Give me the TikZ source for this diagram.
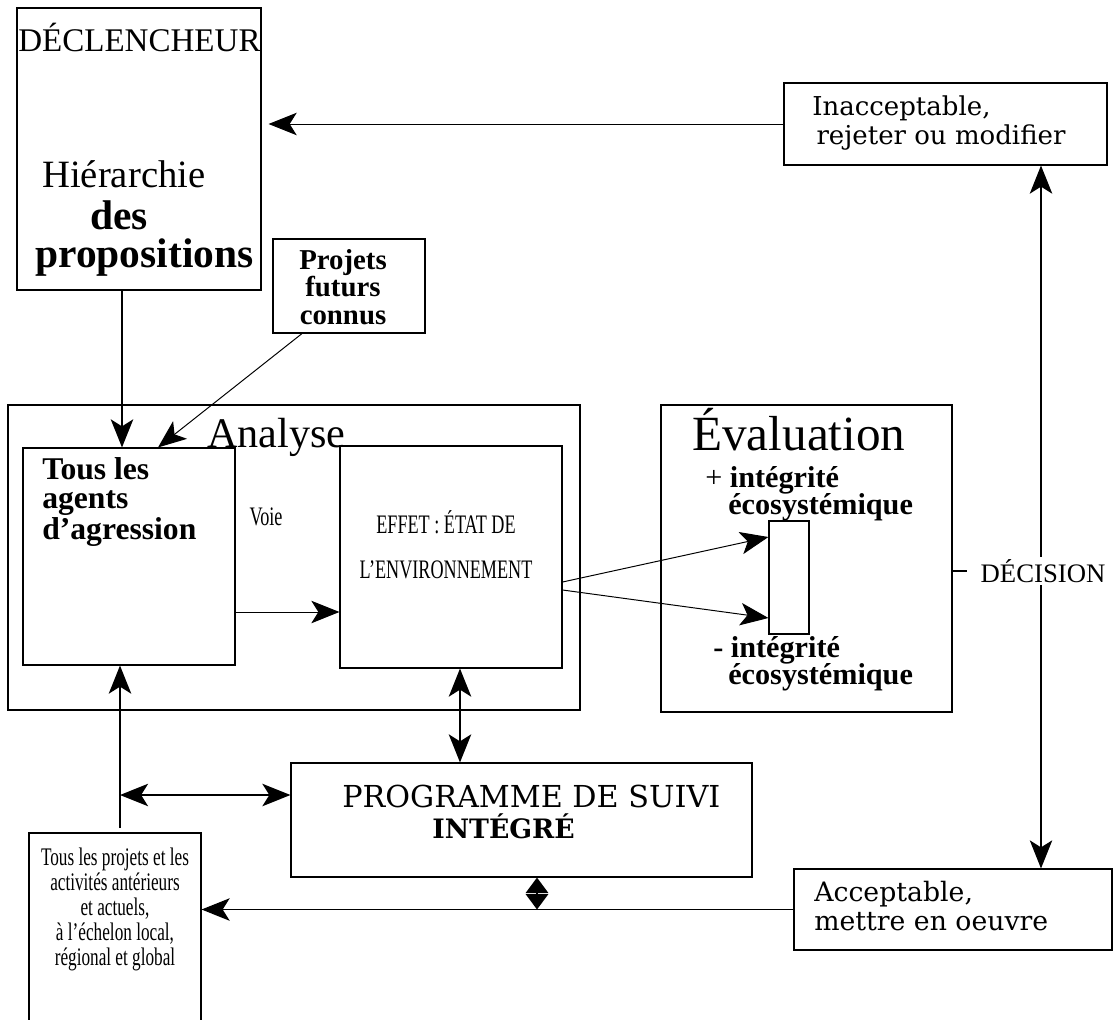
\documentclass[tikz,border=0pt]{standalone}
\usepackage{fontspec}
\setmainfont{Liberation Serif}
\newfontfamily\widefont{DejaVu Serif}
\newfontfamily\narrowfont[FakeStretch=0.68]{Liberation Serif}
\usetikzlibrary{arrows.meta,positioning,fit,calc}

\begin{document}
\begin{tikzpicture}[
		x=0.7113pt,y=-0.7113pt,
		box/.style={draw,line width=0.8pt,inner sep=0pt},
		lbl/.style={inner sep=0pt,anchor=base west},
		arr/.style={-{Stealth[length=20pt,width=16pt,inset=5pt]},line width=1pt},
		dbl/.style={{Stealth[length=20pt,width=16pt,inset=5pt]}-{Stealth[length=20pt,width=16pt,inset=5pt]},line width=1pt},
		mini/.style={{Triangle[length=11pt,width=16pt]}-{Triangle[length=11pt,width=16pt]},line width=1.2pt}
	]
	\useasboundingbox (0,0) rectangle (1114,1019);
	\clip (0,0) rectangle (1114,1019);
	\fill[white] (0,0) rectangle (1114,1019);

	\node[box,fit={(17,8) (261,290)}] (decl) {};
	\node[box,fit={(273,239) (425,333)}] (futur) {};
	\node[box,fit={(8,405) (580,710)}] (analyse) {};
	\node[box,fit={(23,448) (235,665)}] (agents) {};
	\node[box,fit={(340,446) (562,668)}] (effet) {};
	\node[box,fit={(661,405) (952,712)}] (eval) {};
	\node[box,fit={(769,521) (809,634)}] (jauge) {};
	\node[box,fit={(291,763) (752,877)}] (suivi) {};
	\node[box,fit={(784,83) (1107,165)}] (inacc) {};
	\node[box,fit={(794,869) (1112,950)}] (acc) {};
	\node[box,fit={(29,833) (201,1040)}] (projets) {};

	\node[lbl,font=\fontsize{23.5}{26}\selectfont] (declt) at (18,52) {DÉCLENCHEUR};
	\node[lbl,font=\fontsize{27.5}{30}\selectfont] (hier) at (42,187) {Hiérarchie};
	\node[lbl,font=\bfseries\fontsize{29.5}{32}\selectfont] (des) at (90,229) {des};
	\node[lbl,font=\bfseries\fontsize{29.5}{32}\selectfont] (propos) at (35,267) {propositions};
	\node[inner sep=0pt,align=center,font=\bfseries\fontsize{20.5}{19.5}\selectfont] (futurt) at (343,287) {Projets\\futurs\\connus};
	\node[lbl,font=\fontsize{30}{33}\selectfont] (analyset) at (207,447) {Analyse};
	\node[inner sep=0pt,anchor=west,align=left,font=\bfseries\fontsize{22.5}{20.5}\selectfont] (agentst) at (42,502) {Tous les\\agents\\d’agression};
	\node[font=\narrowfont\fontsize{19}{21}\selectfont,inner sep=0pt] (voie) at (266,517) {Voie};
	\node[inner sep=0pt,align=center,font=\narrowfont\fontsize{19}{32}\selectfont] (effett) at (446,545) {EFFET : ÉTAT DE\\L’ENVIRONNEMENT};
	\node[lbl,font=\fontsize{35}{38}\selectfont] (evalt) at (692,450) {Évaluation};
	\node[lbl,font=\fontsize{21.5}{24}\selectfont] (plus) at (705,487) {+ \textbf{intégrité}};
	\node[lbl,font=\bfseries\fontsize{21.5}{24}\selectfont] (ecoplus) at (728,514) {écosystémique};
	\node[lbl,font=\bfseries\fontsize{21.5}{24}\selectfont] (moins) at (713,657) {- intégrité};
	\node[lbl,font=\bfseries\fontsize{21.5}{24}\selectfont] (ecomoins) at (728,684) {écosystémique};
	\node[lbl,font=\widefont\fontsize{21.5}{24}\selectfont] (suivit) at (342,807) {PROGRAMME DE SUIVI};
	\node[lbl,font=\widefont\bfseries\fontsize{19}{22}\selectfont] (integre) at (432,838) {INTÉGRÉ};
	\node[inner sep=0pt,anchor=west,align=left,font=\widefont\fontsize{18.5}{20}\selectfont] (inacct) at (812,123) {Inacceptable,\\\hspace{3pt}rejeter ou modifier};
	\node[inner sep=0pt,anchor=west,align=left,font=\widefont\fontsize{19}{20.5}\selectfont] (acct) at (814,906) {Acceptable,\\mettre en oeuvre};
	\node[inner sep=0pt,align=center,font=\narrowfont\fontsize{18}{17.8}\selectfont] (projetst) at (115,909) {Tous les projets et les\\activités antérieurs\\et actuels,\\à l’échelon local,\\régional et global};

	\coordinate (pied) at (120,828);
	\coordinate (croix) at (120,795);

	\draw[arr] (decl.south -| 122,0) -- (agents.north -| 122,0);
	\draw[arr,line width=0.7pt] (futur.south -| 302,0) -- (agents.north -| 158,0);
	\draw[arr,line width=0.7pt] (agents.east |- 0,612) -- (effet.west |- 0,612);
	\draw[arr,line width=0.7pt] (effet.east |- 0,582) -- (jauge.west |- 0,537);
	\draw[arr,line width=0.7pt] (effet.east |- 0,590) -- (jauge.west |- 0,618);
	\draw[dbl] (effet.south -| 460,0) -- (suivi.north -| 460,0);
	\draw[arr] (pied) -- (agents.south -| pied);
	\draw[dbl] (croix) -- (suivi.west |- croix);
	\draw[arr] (acc.west) -- (projets.east |- acc.west);
	\draw[mini] (suivi.south -| 537,0) -- (acc.west -| 537,0);
	\draw[arr,line width=0.7pt,shorten >=5pt] (inacc.west) -- (decl.east |- inacc.west);
	\draw[dbl,line width=0.8pt] (inacc.south -| 1041,0) -- (acc.north -| 1041,0);
	\node[fill=white,inner sep=2pt,font=\fontsize{19}{21}\selectfont] (dec) at (1043,571) {DÉCISION};
	\draw[line width=0.8pt] (eval.east |- dec) -- ++(14,0);
\end{tikzpicture}
\end{document}
